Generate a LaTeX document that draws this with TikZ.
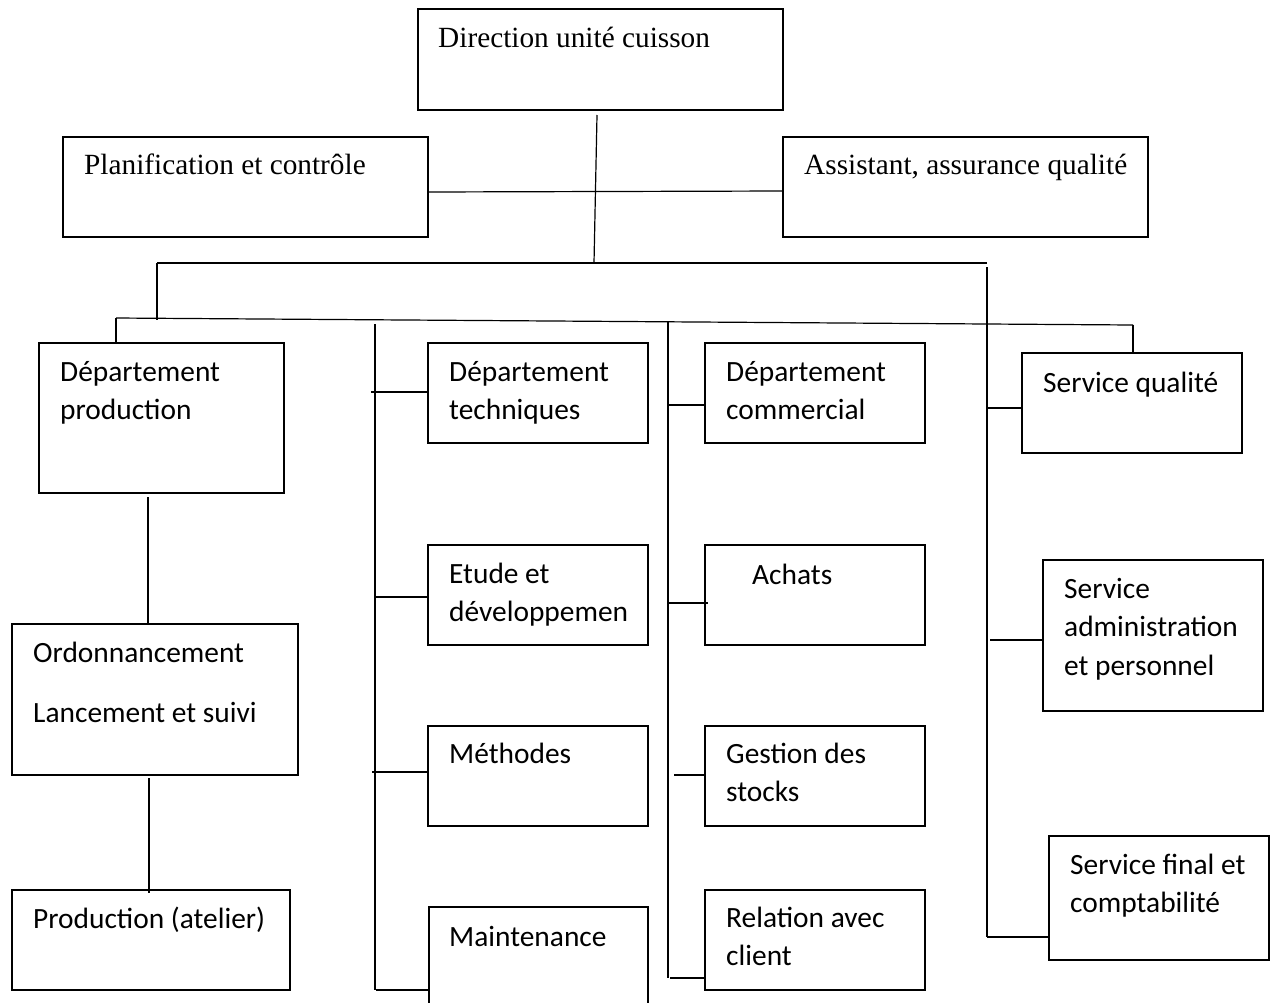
\documentclass[tikz,border=0pt]{standalone}
\usepackage{fontspec}
\setmainfont{Liberation Serif}
\newfontfamily\bodysans{Carlito}
\begin{document}
\begin{tikzpicture}[x=1pt,y=-1pt,
  box/.style={draw=black,line width=1.6pt,inner sep=0pt,outer sep=0pt,anchor=north west},
  lnk/.style={draw=black,line width=1.2pt},
  serif/.style={anchor=base west,inner sep=0pt,font=\fontsize{29.3}{34}\selectfont},
  sans/.style={anchor=base west,inner sep=0pt,align=left,font=\bodysans\fontsize{29.4}{38.5}\selectfont}]
\useasboundingbox[fill=white] (0,0) rectangle (1271,1002);

% top level
\node[box,minimum width=365pt,minimum height=101pt] (dir) at (418,9) {};
\node[box,minimum width=365pt,minimum height=100pt] (plan) at (63,137) {};
\node[box,minimum width=365pt,minimum height=100pt] (assist) at (783,137) {};
\node[serif] (tdir) at (438,47) {Direction unité cuisson};
\node[serif] (tplan) at (84,174) {Planification et contrôle};
\node[serif] (tassist) at (804,174) {Assistant, assurance qualité};

% production column (multi-line labels are placed by their last baseline)
\node[box,minimum width=245pt,minimum height=150pt] (prod) at (39,343) {};
\node[box,minimum width=286pt,minimum height=151pt] (ordo) at (12,624) {};
\node[box,minimum width=278pt,minimum height=100pt] (atel) at (12,890) {};
\node[sans] (tprod) at (60,419.5) {Département\\production};
\node[sans] (tordo1) at (33,662) {Ordonnancement};
\node[sans] (tordo2) at (33,722) {Lancement et suivi};
\node[sans] (tatel) at (33,928) {Production (atelier)};

% technical column
\node[box,minimum width=220pt,minimum height=100pt] (tech) at (428,343) {};
\node[box,minimum width=220pt,minimum height=100pt] (etude) at (428,545) {};
\node[box,minimum width=220pt,minimum height=100pt] (meth) at (428,726) {};
\node[box,minimum width=219pt,minimum height=110pt] (maint) at (429,907) {};
\node[sans] (ttech) at (449,419.5) {Département\\techniques};
\node[sans] (tetude) at (449,621.5) {Etude et\\développemen};
\node[sans] (tmeth) at (449,763) {Méthodes};
\node[sans] (tmaint) at (449,946) {Maintenance};

% commercial column
\node[box,minimum width=220pt,minimum height=100pt] (comm) at (705,343) {};
\node[box,minimum width=220pt,minimum height=100pt] (achat) at (705,545) {};
\node[box,minimum width=220pt,minimum height=100pt] (stock) at (705,726) {};
\node[box,minimum width=220pt,minimum height=100pt] (client) at (705,890) {};
\node[sans] (tcomm) at (726,419.5) {Département\\commercial};
\node[sans] (tachat) at (752,584) {Achats};
\node[sans] (tstock) at (726,801.5) {Gestion des\\stocks};
\node[sans] (tclient) at (726,965.5) {Relation avec\\client};

% services column
\node[box,minimum width=220pt,minimum height=100pt] (qual) at (1022,353) {};
\node[box,minimum width=220pt,minimum height=151pt] (admin) at (1043,560) {};
\node[box,minimum width=220pt,minimum height=124pt] (final) at (1049,836) {};
\node[sans] (tqual) at (1043,392) {Service qualité};
\node[sans] (tadmin) at (1064,675) {Service\\administration\\et personnel};
\node[sans] (tfinal) at (1070,912.5) {Service final et\\comptabilité};

% junction points of the tree
\coordinate (dtop) at (597,115);
\coordinate (dbus) at (594,263);
\coordinate (busL) at (157,263);
\coordinate (busR) at (987,263);
\coordinate (slL) at (116,318);
\coordinate (slR) at (1133,325);
\coordinate (c2top) at (375,324);
\coordinate (c2bot) at (375,990);
\coordinate (c3top) at (668,321);
\coordinate (c3bot) at (668,978);
\coordinate (c4top) at (987,267);
\coordinate (c4bot) at (987,937);

% connectors
\draw[lnk] (dtop) -- (dbus);
\draw[lnk] (plan.east |- 0,192) -- (assist.west |- 0,191);
\draw[lnk] (busL) -- (busR);
\draw[lnk] (busL) -- (157,320);
\draw[lnk] (slL) -- (slR);
\draw[lnk] (slL) -- (slL |- prod.north);
\draw[lnk] (slR) -- (slR |- qual.north);
\draw[lnk] (148,497) -- (148,624);
\draw[lnk] (149,778) -- (149,893);

\draw[lnk] (c2top) -- (c2bot);
\draw[lnk] (371,392) -- (tech.west |- 0,392);
\draw[lnk] (375,597) -- (etude.west |- 0,597);
\draw[lnk] (372,772) -- (meth.west |- 0,772);
\draw[lnk] (376,990) -- (maint.west |- 0,990);

\draw[lnk] (c3top) -- (c3bot);
\draw[lnk] (668,405) -- (comm.west |- 0,405);
\draw[lnk] (668,603) -- (708,603);
\draw[lnk] (674,775) -- (stock.west |- 0,775);
\draw[lnk] (670,978) -- (client.west |- 0,978);

\draw[lnk] (c4top) -- (c4bot);
\draw[lnk] (987,408) -- (qual.west |- 0,408);
\draw[lnk] (990,640) -- (admin.west |- 0,640);
\draw[lnk] (c4bot) -- (final.west |- 0,937);
\end{tikzpicture}
\end{document}
